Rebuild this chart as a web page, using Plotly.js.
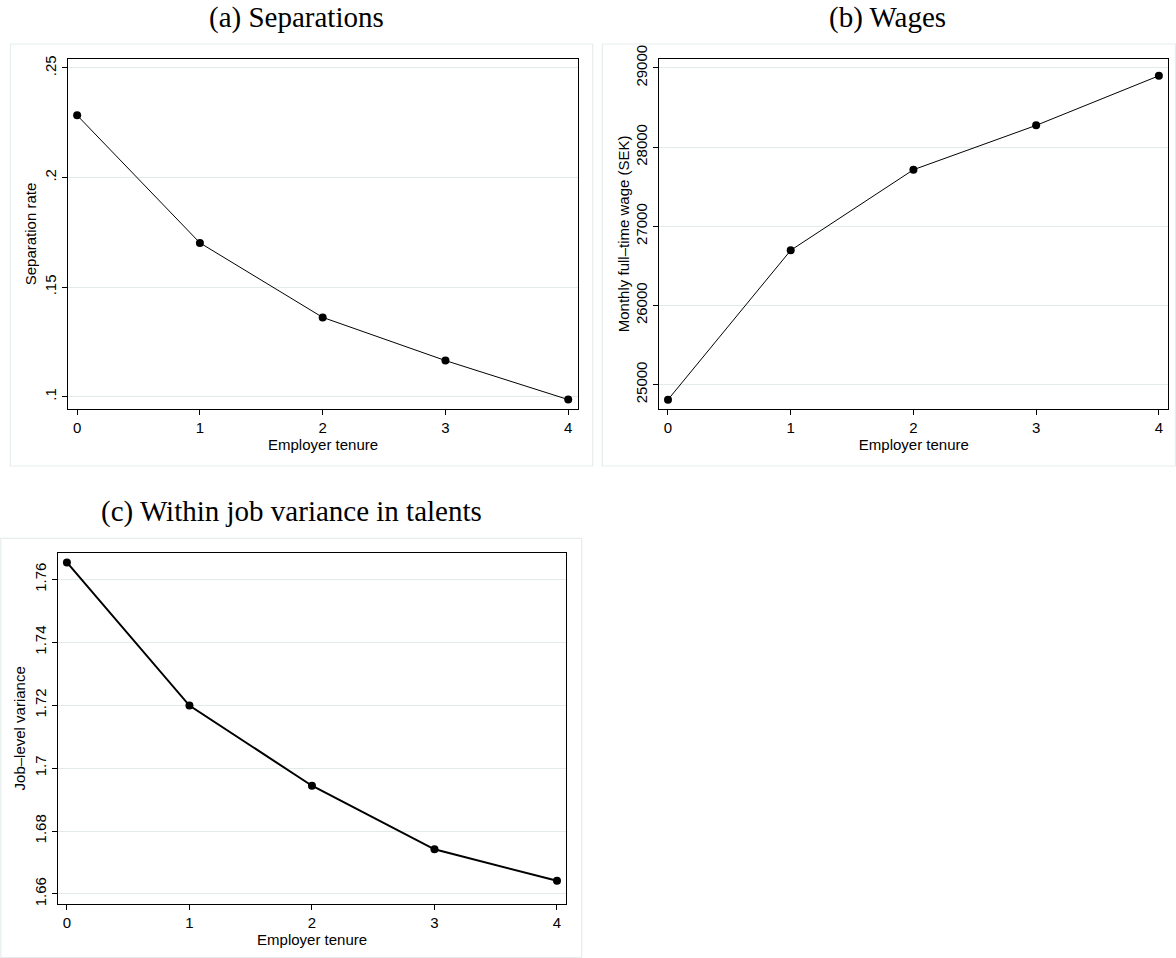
<!DOCTYPE html>
<html>
<head>
<meta charset="utf-8">
<script src="https://cdn.plot.ly/plotly-3.0.1.min.js"></script>
<style>
  html, body { margin: 0; padding: 0; background: #ffffff; }
  #chart { width: 1176px; height: 958px; }
</style>
</head>
<body>
<div id="chart"></div>
<script>
// Employer tenure (years) shared by all three panels
const tenure = [0, 1, 2, 3, 4];
const tenureTicks = ['0', '1', '2', '3', '4'];

// (a) Separation rate by tenure
const separationRate = [0.2284, 0.1702, 0.1362, 0.1165, 0.0987];
const sepTickVals = [0.10, 0.15, 0.20, 0.25];
const sepTickText = ['.1', '.15', '.2', '.25'];

// (b) Monthly full-time wage (SEK) by tenure
const monthlyWage = [24811, 26697, 27715, 28275, 28901];
const wageTickVals = [25000, 26000, 27000, 28000, 29000];
const wageTickText = ['25000', '26000', '27000', '28000', '29000'];

// (c) Job-level variance in talents by tenure
const jobVariance = [1.7654, 1.7199, 1.6944, 1.6742, 1.6642];
const varTickVals = [1.66, 1.68, 1.70, 1.72, 1.74, 1.76];
const varTickText = ['1.66', '1.68', '1.7', '1.72', '1.74', '1.76'];

const panelTitles = ['(a) Separations', '(b) Wages', '(c) Within job variance in talents'];
const xTitle = 'Employer tenure';
const yTitles = ['Separation rate', 'Monthly full\u2013time wage (SEK)', 'Job\u2013level variance'];

const W = 1176, H = 958;
const px = v => v / W;
const py = v => 1 - v / H;

const sansFont = { family: 'Liberation Sans, Arial, sans-serif', size: 15, color: '#000000' };
const serifFont = { family: 'Liberation Serif, Times New Roman, serif', size: 29, color: '#000000' };
const gridCol = '#e3eaea';
const frameCol = '#e6eded';

function xAxis(domain, range, anchor) {
  return {
    domain: domain, range: range, anchor: anchor,
    tickvals: tenure, ticktext: tenureTicks,
    ticks: 'outside', ticklen: 5, tickwidth: 1, tickcolor: '#000',
    showline: true, linecolor: '#000', linewidth: 1.1, mirror: true,
    showgrid: false, zeroline: false,
    tickfont: sansFont,
    title: { text: xTitle, font: sansFont, standoff: 0 }
  };
}
function yAxis(domain, range, anchor, vals, text, title, standoff) {
  return {
    domain: domain, range: range, anchor: anchor,
    tickvals: vals, ticktext: text, tickangle: -90,
    ticks: 'outside', ticklen: 5, tickwidth: 1, tickcolor: '#000',
    showline: true, linecolor: '#000', linewidth: 1.1, mirror: true,
    showgrid: true, gridcolor: gridCol, gridwidth: 1, zeroline: false,
    tickfont: sansFont,
    title: { text: title, font: sansFont, standoff: standoff }
  };
}

const traces = [
  { x: tenure, y: separationRate, xaxis: 'x', yaxis: 'y', type: 'scatter', mode: 'lines+markers',
    line: { color: '#000', width: 1 }, marker: { color: '#000', size: 8 } },
  { x: tenure, y: monthlyWage, xaxis: 'x2', yaxis: 'y2', type: 'scatter', mode: 'lines+markers',
    line: { color: '#000', width: 1 }, marker: { color: '#000', size: 8 } },
  { x: tenure, y: jobVariance, xaxis: 'x3', yaxis: 'y3', type: 'scatter', mode: 'lines+markers',
    line: { color: '#000', width: 2 }, marker: { color: '#000', size: 8 } }
];

// light outer frames around each graph region
const boxes = [
  [10.5, 44, 592.7, 466],
  [602.3, 44, 1175.5, 466],
  [0.8, 538.3, 581.7, 957.5]
].map(b => ({
  type: 'rect', xref: 'paper', yref: 'paper', layer: 'below',
  x0: px(b[0]), x1: px(b[2]), y0: py(b[3]), y1: py(b[1]),
  line: { color: frameCol, width: 1.2 }, fillcolor: 'rgba(0,0,0,0)'
}));

const titleAnn = [
  [296, 18, panelTitles[0]],
  [887, 18, panelTitles[1]],
  [291, 512, panelTitles[2]]
].map(t => ({
  xref: 'paper', yref: 'paper', x: px(t[0]), y: py(t[1]),
  xanchor: 'center', yanchor: 'middle', showarrow: false,
  text: t[2], font: serifFont
}));

const layout = {
  width: W, height: H,
  margin: { l: 0, r: 0, t: 0, b: 0 },
  paper_bgcolor: '#ffffff', plot_bgcolor: '#ffffff',
  showlegend: false,
  xaxis: xAxis([px(68.3), px(577.8)], [-0.072, 4.078], 'y'),
  yaxis: yAxis([py(409), py(59)], [0.0944, 0.2541], 'x', sepTickVals, sepTickText, yTitles[0], 2),
  xaxis2: xAxis([px(659.4), px(1168.3)], [-0.070, 4.077], 'y2'),
  yaxis2: yAxis([py(409), py(58.7)], [24693, 29117], 'x2', wageTickVals, wageTickText, yTitles[1], 0),
  xaxis3: xAxis([px(57.9), px(566.3)], [-0.0735, 4.076], 'y3'),
  yaxis3: yAxis([py(903.7), py(553)], [1.6569, 1.7684], 'x3', varTickVals, varTickText, yTitles[2], 2),
  shapes: boxes,
  annotations: titleAnn
};

Plotly.newPlot('chart', traces, layout, { displayModeBar: false, staticPlot: true });
</script>
</body>
</html>
